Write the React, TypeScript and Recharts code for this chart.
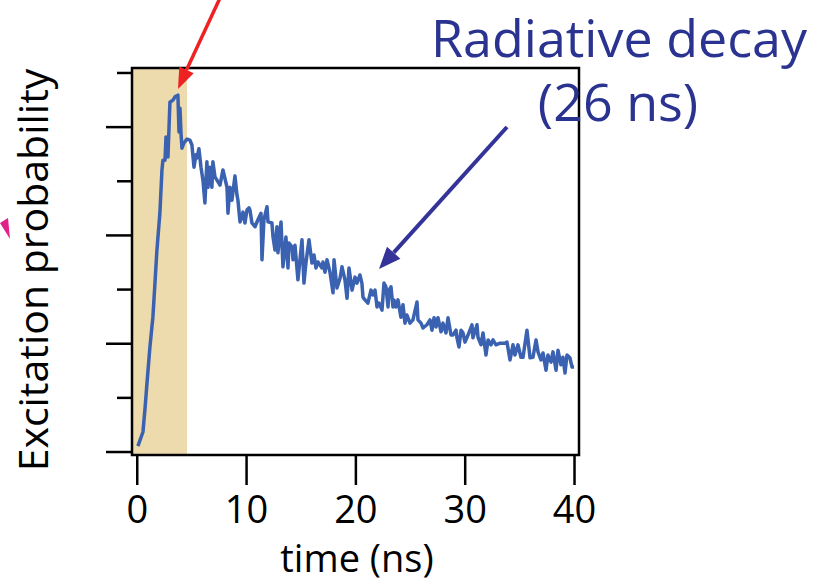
import React from "react";
import { ComposedChart, Line, XAxis, YAxis, ReferenceArea } from "recharts";

const timeNs = [
  0.06, 0.52, 0.7, 0.89, 1.16, 1.43, 1.62, 1.8, 2.07, 2.26, 2.35, 2.54, 2.63, 2.81, 2.99, 3.27, 3.45, 3.72,
  3.82, 3.91, 4.0, 4.09, 4.27, 4.55, 4.82, 5.0, 5.19, 5.37, 5.46, 5.64, 5.83, 6.01, 6.19, 6.37, 6.47, 6.65,
  6.83, 6.92, 7.11, 7.29, 7.57, 7.84, 8.21, 8.3, 8.48, 8.66, 8.94, 9.12, 9.21, 9.4, 9.67, 9.85, 10.04, 10.22,
  10.31, 10.49, 10.77, 11.04, 11.32, 11.41, 11.59, 11.87, 11.96, 12.32, 12.42, 12.6, 12.78, 12.87, 13.15,
  13.33, 13.6, 13.79, 13.88, 14.15, 14.25, 14.43, 14.7, 15.07, 15.25, 15.43, 15.71, 15.98, 16.17, 16.35,
  16.53, 16.9, 16.99, 17.17, 17.36, 17.63, 17.91, 18.0, 18.27, 18.55, 18.73, 19.0, 19.19, 19.37, 19.65,
  19.92, 20.1, 20.37, 20.55, 20.65, 20.83, 21.1, 21.38, 21.56, 21.75, 21.93, 22.11, 22.39, 22.57, 22.75,
  22.94, 23.03, 23.21, 23.39, 23.48, 23.67, 23.85, 24.12, 24.31, 24.49, 24.67, 24.95, 25.22, 25.59, 25.68,
  25.96, 26.14, 26.5, 26.78, 26.96, 27.15, 27.33, 27.51, 27.79, 27.97, 28.24, 28.43, 28.7, 28.88, 29.16,
  29.25, 29.43, 29.62, 29.8, 29.98, 30.26, 30.62, 30.71, 31.08, 31.17, 31.45, 31.63, 31.9, 32.09, 32.36,
  32.54, 32.82, 33.18, 33.64, 33.82, 34.1, 34.37, 34.55, 34.83, 35.1, 35.29, 35.65, 35.93, 36.2, 36.48,
  36.66, 36.93, 37.12, 37.39, 37.57, 37.85, 38.03, 38.31, 38.49, 38.76, 38.94, 39.13, 39.31, 39.58, 39.77,
  39.95,
];

const excitation = [
  0.11, 0.37, 0.78, 1.27, 1.94, 2.49, 3.12, 3.73, 4.41, 5.21, 5.39, 5.39, 5.82, 5.45, 6.46, 6.5, 6.56, 6.59,
  5.91, 6.35, 5.89, 5.61, 5.71, 5.78, 5.76, 5.67, 5.26, 5.49, 5.43, 5.6, 5.26, 5.02, 4.6, 5.36, 4.89, 5.26,
  4.89, 5.36, 5.08, 5.02, 4.93, 5.21, 4.89, 4.41, 4.89, 4.65, 5.1, 4.75, 4.65, 4.25, 4.43, 4.23, 4.47, 4.51,
  4.47, 4.23, 4.16, 4.29, 4.41, 3.55, 4.29, 4.53, 4.25, 4.23, 3.97, 3.73, 4.16, 3.68, 4.25,
  3.42, 3.97, 3.4, 3.86, 3.79, 3.55, 3.82, 3.18, 3.92, 3.12, 3.49, 3.92, 3.49, 3.64, 3.4,
  3.51, 3.4, 3.51, 3.32, 3.55, 3.32, 2.94, 3.55, 3.03, 3.21, 3.42, 3.18, 2.84, 3.4, 2.99,
  3.23, 3.12, 3.27, 3.12, 2.86, 2.81, 2.75, 2.99, 2.9, 2.99, 2.68, 2.75, 2.62, 3.12, 3.05,
  2.68, 2.99, 3.05, 2.68, 2.81, 2.68, 2.81, 2.49, 2.72, 2.38, 2.53, 2.38, 2.44, 2.77, 2.44,
  2.38, 2.29, 2.35, 2.44, 2.25, 2.48, 2.31, 2.48, 2.22, 2.38, 2.2, 2.48, 2.16, 2.16, 2.25,
  2.11, 1.94, 2.25, 2.2, 2.03, 2.16, 2.35, 2.11, 2.35, 2.12, 1.98, 2.2, 1.79, 2.07, 1.98,
  2.07, 1.98, 2.01, 2.01, 2.03, 1.7, 1.98, 1.79, 1.98, 1.75, 1.75, 2.25, 1.74, 1.75, 2.07,
  1.85, 1.7, 1.83, 1.51, 1.79, 1.66, 1.85, 1.51, 1.88, 1.61, 1.75, 1.46, 1.79, 1.74, 1.57,
  1.57,
];

const xTicks = [0, 10, 20, 30, 40];
const yTicks = [0, 1, 2, 3, 4, 5, 6, 7];
const xDomain: [number, number] = [-0.48, 40.41];
const yDomain: [number, number] = [-0.055, 7.092];
const pulseWindow: [number, number] = [-0.48, 4.55];

const data = timeNs.map((t, i) => ({ t, v: excitation[i] }));

const FONT = "'Open Sans', 'DejaVu Sans', sans-serif";
const PLOT_LEFT = 132;
const PLOT_BOTTOM = 455;

const YTick = (props: any) => {
  const { y, payload } = props;
  const len = payload.value % 2 === 0 ? 26 : 15;
  return (
    <line x1={PLOT_LEFT - len} x2={PLOT_LEFT} y1={y} y2={y} stroke="#000" strokeWidth={2.5} />
  );
};

const XTick = (props: any) => {
  const { x, payload } = props;
  return (
    <g>
      <line x1={x} x2={x} y1={PLOT_BOTTOM + 1} y2={PLOT_BOTTOM + 30} stroke="#000" strokeWidth={2.5} />
      <text x={x} y={523} textAnchor="middle" fontSize={38} fontFamily={FONT} fill="#000">
        {payload.value}
      </text>
    </g>
  );
};

export default function App() {
  return (
    <div style={{ position: "absolute", left: 0, top: 0, width: 825, height: 585, background: "#fff" }}>
      <ComposedChart
        width={825}
        height={585}
        data={data}
        margin={{ top: 68, right: 246, bottom: 70, left: 92 }}
      >
        <XAxis
          dataKey="t"
          type="number"
          domain={xDomain}
          ticks={xTicks}
          allowDataOverflow
          height={60}
          axisLine={false}
          tickLine={false}
          tick={<XTick />}
          interval={0}
        />
        <YAxis
          type="number"
          domain={yDomain}
          ticks={yTicks}
          allowDataOverflow
          width={40}
          axisLine={false}
          tickLine={false}
          tick={<YTick />}
          interval={0}
        />
        <ReferenceArea
          x1={pulseWindow[0]}
          x2={pulseWindow[1]}
          y1={yDomain[0]}
          y2={yDomain[1]}
          fill="#eddaad"
          fillOpacity={1}
          stroke="none"
        />
        <Line
          type="linear"
          dataKey="v"
          stroke="#3a62b0"
          strokeWidth={3.5}
          dot={false}
          isAnimationActive={false}
          strokeLinejoin="round"
        />
        <ReferenceArea
          x1={xDomain[0]}
          x2={xDomain[1]}
          y1={yDomain[0]}
          y2={yDomain[1]}
          fill="none"
          fillOpacity={0}
          stroke="#000"
          strokeWidth={2.5}
        />
      </ComposedChart>
      <svg
        width={825}
        height={585}
        style={{ position: "absolute", left: 0, top: 0, pointerEvents: "none" }}
      >
        <text
          x={48}
          y={270}
          transform="rotate(-90 48 270)"
          textAnchor="middle"
          fontSize={41}
          fontFamily={FONT}
          fill="#000"
        >
          Excitation probability
        </text>
        <text x={357} y={572} textAnchor="middle" fontSize={38} fontFamily={FONT} fill="#000">
          time (ns)
        </text>
        <text textAnchor="middle" fontSize={52} fontFamily={FONT} fill="#2b3390">
          <tspan x={619} y={57}>Radiative decay</tspan>
          <tspan x={618} y={121}>(26 ns)</tspan>
        </text>
        <line x1={220} y1={-2} x2={186.5} y2={70} stroke="#ee2222" strokeWidth={3.5} />
        <polygon points="178,89 193.7,73.3 179.3,66.5" fill="#ee2222" />
        <line x1={507} y1={127} x2={393.7} y2={252.7} stroke="#333399" strokeWidth={4} />
        <polygon points="379,269 400.4,258.7 387,246.7" fill="#333399" />
        <polygon points="0,223 8,218 10,239" fill="#e0218a" />
      </svg>
    </div>
  );
}
